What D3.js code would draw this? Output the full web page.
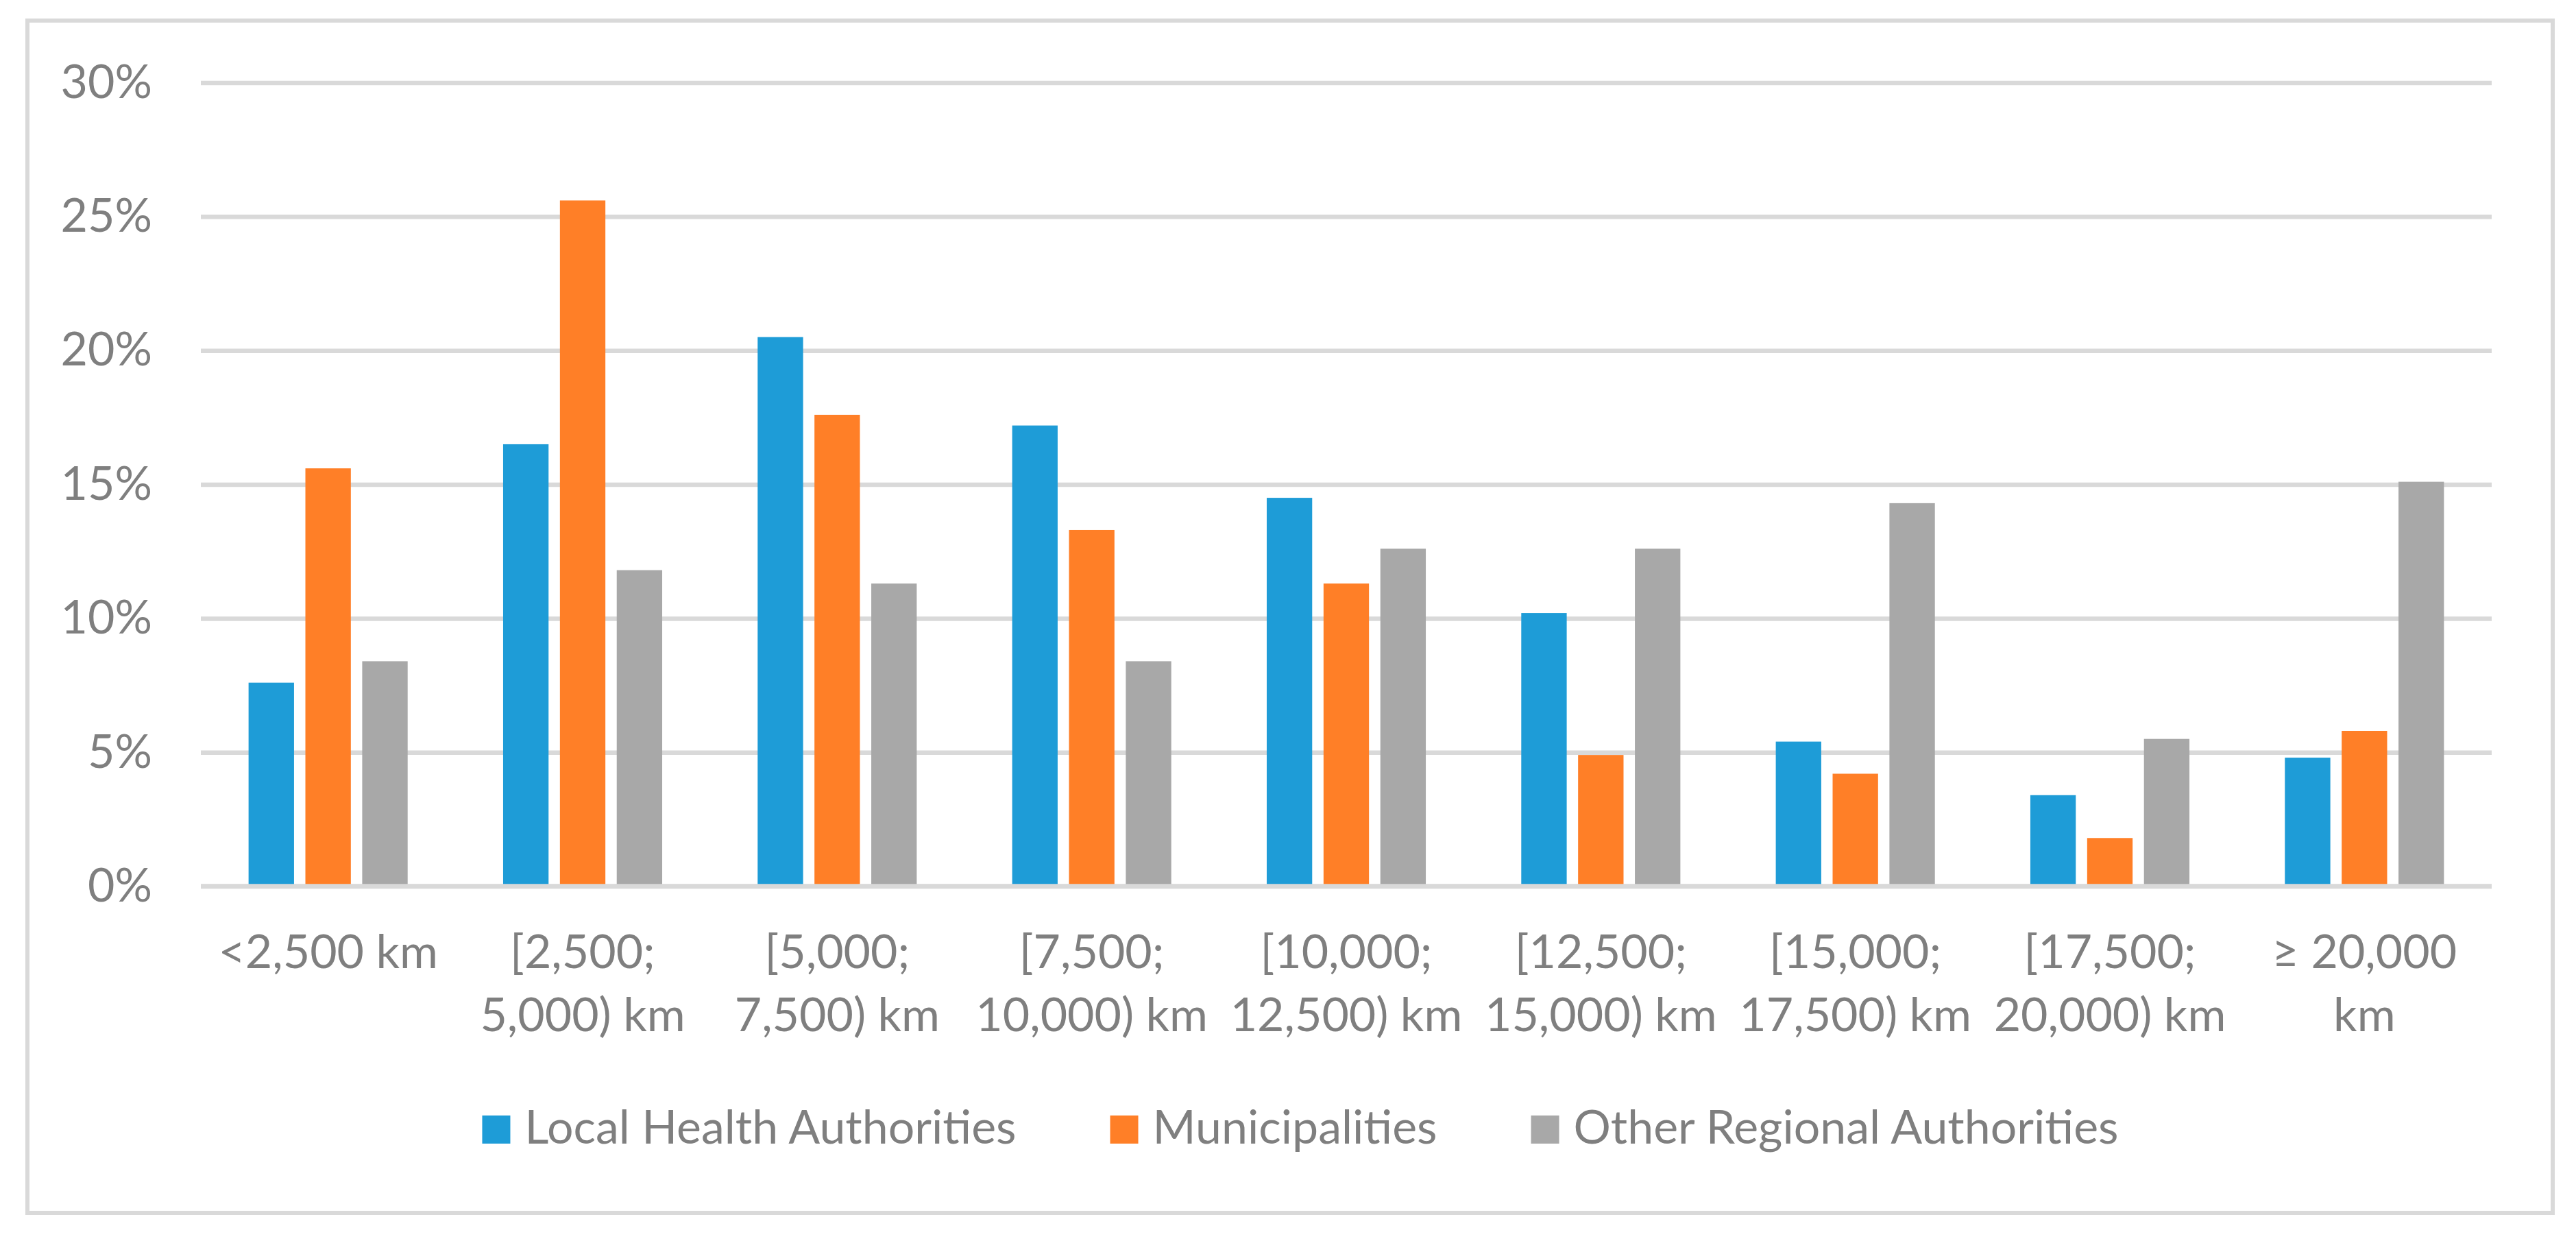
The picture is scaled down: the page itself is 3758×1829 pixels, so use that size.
<!DOCTYPE html>
<html>
<head>
<meta charset="utf-8">
<script src="https://cdn.jsdelivr.net/npm/d3@7"></script>
<style>
  body { margin: 0; background: #fff; }
  text { font-family: Lato, "Open Sans", sans-serif; fill: #7f7f7f; }
</style>
</head>
<body>
<div id="chart"></div>
<script>
// categories (tick labels, already split into the lines shown in the chart)
const categoryLines = [
    ["<2,500 km"],
    ["[2,500;", "5,000) km"],
    ["[5,000;", "7,500) km"],
    ["[7,500;", "10,000) km"],
    ["[10,000;", "12,500) km"],
    ["[12,500;", "15,000) km"],
    ["[15,000;", "17,500) km"],
    ["[17,500;", "20,000) km"],
    ["\u2265 20,000", "km"]
];
const categories = categoryLines.map(l => l.join(" "));

const seriesNames = ["Local Health Authorities", "Municipalities", "Other Regional Authorities"];
const seriesColors = ["#1e9cd7", "#ff7f27", "#a8a8a8"];

// values in percent
const localHealth   = [7.6, 16.5, 20.5, 17.2, 14.5, 10.2, 5.4, 3.4, 4.8];
const municipalities = [15.6, 25.6, 17.6, 13.3, 11.3, 4.9, 4.2, 1.8, 5.8];
const otherRegional = [8.4, 11.8, 11.3, 8.4, 12.6, 12.6, 14.3, 5.5, 15.1];
const seriesValues = [localHealth, municipalities, otherRegional];

const yTicks = [0, 5, 10, 15, 20, 25, 30];

const W = 3758, H = 1829;
const plot = { left: 293, right: 3635, top: 120.5, bottom: 1292.6 };
const fontSize = 68;

const svg = d3.select("#chart")
    .append("svg")
    .attr("width", W)
    .attr("height", H);

svg.append("rect")
    .attr("width", W).attr("height", H)
    .attr("fill", "#fff");

// chart frame
svg.append("rect")
    .attr("x", 40).attr("y", 30)
    .attr("width", 3684).attr("height", 1739)
    .attr("fill", "none")
    .attr("stroke", "#d9d9d9")
    .attr("stroke-width", 6);

const x = d3.scaleBand()
    .domain(categories)
    .range([plot.left, plot.right]);

const xSub = d3.scaleBand()
    .domain(seriesNames)
    .range([0, x.bandwidth()])
    .paddingInner(0.2)
    .paddingOuter(0.84);

const y = d3.scaleLinear()
    .domain([0, 30])
    .range([plot.bottom, plot.top]);

// y axis + gridlines
const yAxis = svg.append("g")
    .attr("transform", `translate(${plot.left},0)`)
    .call(d3.axisLeft(y)
        .tickValues(yTicks)
        .tickSize(-(plot.right - plot.left))
        .tickPadding(71)
        .tickFormat(d => d + "%"));
yAxis.select(".domain").remove();
yAxis.selectAll(".tick line")
    .attr("stroke", "#d9d9d9")
    .attr("stroke-width", 6.5);
yAxis.selectAll(".tick text")
    .style("font-size", fontSize + "px")
    .attr("fill", "#7f7f7f")
    .style("font-family", "Lato, 'Open Sans', sans-serif");

// bars
const rows = categories.map((c, i) => ({
    cat: c,
    vals: seriesNames.map((s, j) => ({ s: s, v: seriesValues[j][i], color: seriesColors[j] }))
}));

svg.append("g")
    .selectAll("g")
    .data(rows)
    .enter()
    .append("g")
    .attr("transform", d => `translate(${x(d.cat)},0)`)
    .selectAll("rect")
    .data(d => d.vals)
    .enter()
    .append("rect")
    .attr("x", d => xSub(d.s))
    .attr("width", xSub.bandwidth())
    .attr("y", d => y(d.v))
    .attr("height", d => y(0) - y(d.v))
    .attr("fill", d => d.color);

// zero line over bar bottoms
svg.append("line")
    .attr("x1", plot.left).attr("x2", plot.right)
    .attr("y1", y(0)).attr("y2", y(0))
    .attr("stroke", "#d9d9d9")
    .attr("stroke-width", 6.5);

// x axis labels
const xAxis = svg.append("g")
    .attr("transform", `translate(0,${plot.bottom})`)
    .call(d3.axisBottom(x).tickSize(0).tickFormat(""));
xAxis.select(".domain").remove();
xAxis.selectAll(".tick").each(function(d, i) {
    const t = d3.select(this).append("text")
        .attr("text-anchor", "middle")
        .attr("fill", "#7f7f7f")
        .style("font-size", fontSize + "px");
    categoryLines[i].forEach((line, k) => {
        t.append("tspan")
            .attr("x", 0)
            .attr("y", 119 + k * 92)
            .text(line);
    });
});

// legend
const legend = svg.append("g").attr("class", "legend");
const items = legend.selectAll("g")
    .data(seriesNames)
    .enter()
    .append("g");
items.append("rect")
    .attr("y", 1627)
    .attr("width", 41).attr("height", 41)
    .attr("fill", (d, i) => seriesColors[i]);
items.append("text")
    .attr("x", 62)
    .attr("y", 1668)
    .style("font-size", fontSize + "px")
    .text(d => d);

const widths = [];
items.each(function() {
    const w = 62 + d3.select(this).select("text").node().getComputedTextLength();
    widths.push(w);
});
const legendGap = 137;
const total = d3.sum(widths) + legendGap * (widths.length - 1);
let start = 1897 - total / 2;
items.attr("transform", (d, i) => {
    const tx = start;
    start += widths[i] + legendGap;
    return `translate(${tx},0)`;
});
</script>
</body>
</html>
